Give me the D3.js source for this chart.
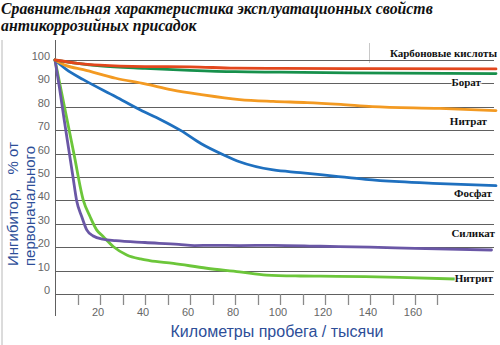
<!DOCTYPE html>
<html>
<head>
<meta charset="utf-8">
<script src="https://cdn.jsdelivr.net/npm/d3@7"></script>
<style>
  html, body { margin: 0; padding: 0; background: #fff; }
  svg { display: block; }
</style>
</head>
<body>
<svg id="chart" width="500" height="345"></svg>
<script>
// ---- Data (km thousands, % of initial inhibitor) ----
const titleLines = ["Сравнительная характеристика эксплуатационных свойств", "антикоррозийных присадок"];
const xTitle = "Километры пробега / тысячи";
const yTitleA = "Ингибитор,";
const yTitleB = "% от";
const yTitleC = "первоначального";
const yTicks = [0, 10, 20, 30, 40, 50, 60, 70, 80, 90, 100];
const xTickMarks = [10, 20, 30, 40, 50, 60, 70, 80, 90, 100, 110, 120, 130, 140, 150, 160, 170];
const xTickLabels = [20, 40, 60, 80, 100, 120, 140, 160];

const seriesNames = ["Карбоновые кислоты", "Борат", "Нитрат", "Фосфат", "Силикат", "Нитрит"];

const carbonKm  = [0, 10, 20, 40, 60, 80, 100, 140, 196];
const carbonVal = [100, 98.6, 97.8, 97.2, 97.1, 96.5, 96.4, 96.3, 96.2];

const boratKm  = [0, 10, 20, 40, 60, 80, 100, 130, 196];
const boratVal = [100, 98.6, 97.5, 96.4, 95.6, 95.0, 94.8, 94.5, 94.2];

const nitrateKm  = [0, 5, 12.6, 27, 40, 52, 65, 82, 97, 112, 127, 141, 171, 196];
const nitrateVal = [100, 97.6, 95.9, 92.2, 89.8, 87.2, 85.2, 83.1, 82.3, 81.8, 81.0, 80.1, 79.3, 78.4];

const phosKm  = [0, 5, 12.6, 27, 38, 47, 56, 65, 75, 82, 97, 109, 124, 138, 153, 168, 196];
const phosVal = [100, 96, 91.6, 84.3, 78.6, 74.5, 69.8, 64.2, 59.4, 56.5, 53.0, 51.9, 50.4, 49.0, 48.0, 47.3, 46.3];

const silKm  = [0, 2, 4, 6.4, 8, 9.6, 11.9, 14.1, 17, 21.3, 27, 40, 55, 62, 70, 82, 97, 118, 140, 160, 194];
const silVal = [100, 88, 75, 60, 50, 40, 33, 27.4, 24.8, 23.4, 22.8, 22.0, 21.2, 20.7, 20.8, 20.7, 20.8, 20.4, 20.0, 19.5, 18.8];

const nitKm  = [0, 4.2, 8.4, 12.6, 15.6, 18.5, 21.5, 26, 31.9, 38, 42, 52.6, 67.4, 82, 94, 109, 118, 138, 153, 178];
const nitVal = [100, 80, 60, 40, 33, 27.4, 24.5, 20.2, 16.7, 15.0, 14.3, 13.1, 11.0, 9.5, 8.1, 7.7, 7.6, 7.4, 7.1, 6.4];

const seriesColors = ["#e2471d", "#17904c", "#f39a22", "#1f70bf", "#6a57a6", "#6cc63a"];

// ---- Layout ----
const svg = d3.select("#chart");
const x = d3.scaleLinear().domain([0, 196]).range([55, 496]);
const y = d3.scaleLinear().domain([0, 100]).range([294, 60]);

// frame bits
svg.append("line").attr("x1", 2).attr("x2", 2).attr("y1", 40).attr("y2", 345)
  .attr("stroke", "#b8b8b8").attr("stroke-width", 1);
svg.append("line").attr("x1", 369.5).attr("x2", 369.5).attr("y1", 43).attr("y2", 63)
  .attr("stroke", "#c8c8c8").attr("stroke-width", 1);

// title
svg.append("g").selectAll("text").data(titleLines).join("text")
  .attr("x", 1).attr("y", (d, i) => 14 + i * 16.5)
  .attr("font-family", "'Liberation Serif', 'DejaVu Serif', serif")
  .attr("font-style", "italic").attr("font-weight", "bold")
  .attr("font-size", 15.8).attr("fill", "#111")
  .text(d => d);

// gridlines
svg.append("g").selectAll("line").data(yTicks).join("line")
  .attr("x1", x(0)).attr("x2", 494)
  .attr("y1", d => Math.round(y(d)) + 0.5).attr("y2", d => Math.round(y(d)) + 0.5)
  .attr("stroke", "#606060").attr("stroke-width", 1);

// y axis line
svg.append("line").attr("x1", x(0) + 0.5).attr("x2", x(0) + 0.5).attr("y1", 40).attr("y2", 316)
  .attr("stroke", "#606060").attr("stroke-width", 1);

// y tick labels
svg.append("g").selectAll("text").data(yTicks).join("text")
  .attr("x", 50).attr("y", d => y(d))
  .attr("text-anchor", "end")
  .attr("font-family", "'Liberation Sans', Arial, sans-serif")
  .attr("font-size", 11).attr("fill", "#666")
  .text(d => d);

// x tick marks
svg.append("g").selectAll("line").data(xTickMarks).join("line")
  .attr("x1", d => Math.round(x(d)) + 0.5).attr("x2", d => Math.round(x(d)) + 0.5)
  .attr("y1", 294).attr("y2", 305)
  .attr("stroke", "#8a8a8a").attr("stroke-width", 1.3);

// x tick labels
svg.append("g").selectAll("text").data(xTickLabels).join("text")
  .attr("x", d => x(d) - 2).attr("y", 316)
  .attr("text-anchor", "middle")
  .attr("font-family", "'Liberation Sans', Arial, sans-serif")
  .attr("font-size", 11).attr("fill", "#666")
  .text(d => d);

// axis titles
const titleColor = "#2d4e98";
svg.append("text").attr("x", 277).attr("y", 337).attr("text-anchor", "middle")
  .attr("font-family", "'Liberation Sans', Arial, sans-serif")
  .attr("font-size", 16).attr("fill", titleColor).text(xTitle);

svg.append("text").attr("transform", "translate(18,266) rotate(-90)")
  .attr("text-anchor", "start")
  .attr("font-family", "'Liberation Sans', Arial, sans-serif")
  .attr("font-size", 15).attr("fill", titleColor).text(yTitleA);
svg.append("text").attr("transform", "translate(18,142) rotate(-90)")
  .attr("text-anchor", "end")
  .attr("font-family", "'Liberation Sans', Arial, sans-serif")
  .attr("font-size", 15).attr("fill", titleColor).text(yTitleB);
svg.append("text").attr("transform", "translate(35,266) rotate(-90)")
  .attr("text-anchor", "start")
  .attr("font-family", "'Liberation Sans', Arial, sans-serif")
  .attr("font-size", 15).attr("fill", titleColor).text(yTitleC);

// series
const series = [
  { km: carbonKm, v: carbonVal },
  { km: boratKm, v: boratVal },
  { km: nitrateKm, v: nitrateVal },
  { km: phosKm, v: phosVal },
  { km: silKm, v: silVal },
  { km: nitKm, v: nitVal }
].map((s, i) => ({
  name: seriesNames[i], color: seriesColors[i],
  pts: s.km.map((k, j) => [k, s.v[j]])
}));

const line = d3.line().x(d => x(d[0])).y(d => y(d[1])).curve(d3.curveMonotoneX);

// draw order: light green & purple at back, then others
const order = [5, 4, 3, 2, 1, 0];
svg.append("g").selectAll("path").data(order.map(i => series[i])).join("path")
  .attr("d", d => line(d.pts))
  .attr("fill", "none")
  .attr("stroke", d => d.color)
  .attr("stroke-width", 2.8)
  .attr("stroke-linejoin", "round")
  .attr("stroke-linecap", "round");

// series labels (offset from end of each line)
const labelDy = [-12, 12, 14, 11, -13, 3];
const labelEndX = [497, 481, 487, 492, 495, 493];
svg.append("g").selectAll("text").data(series).join("text")
  .attr("x", (d, i) => labelEndX[i])
  .attr("y", (d, i) => y(d.pts[d.pts.length - 1][1]) + labelDy[i])
  .attr("text-anchor", "end")
  .attr("font-family", "'Liberation Serif', 'DejaVu Serif', serif")
  .attr("font-weight", "bold")
  .attr("font-size", 11).attr("fill", "#111")
  .attr("stroke", "#fff").attr("stroke-width", 2).attr("paint-order", "stroke")
  .text(d => d.name);
</script>
</body>
</html>
